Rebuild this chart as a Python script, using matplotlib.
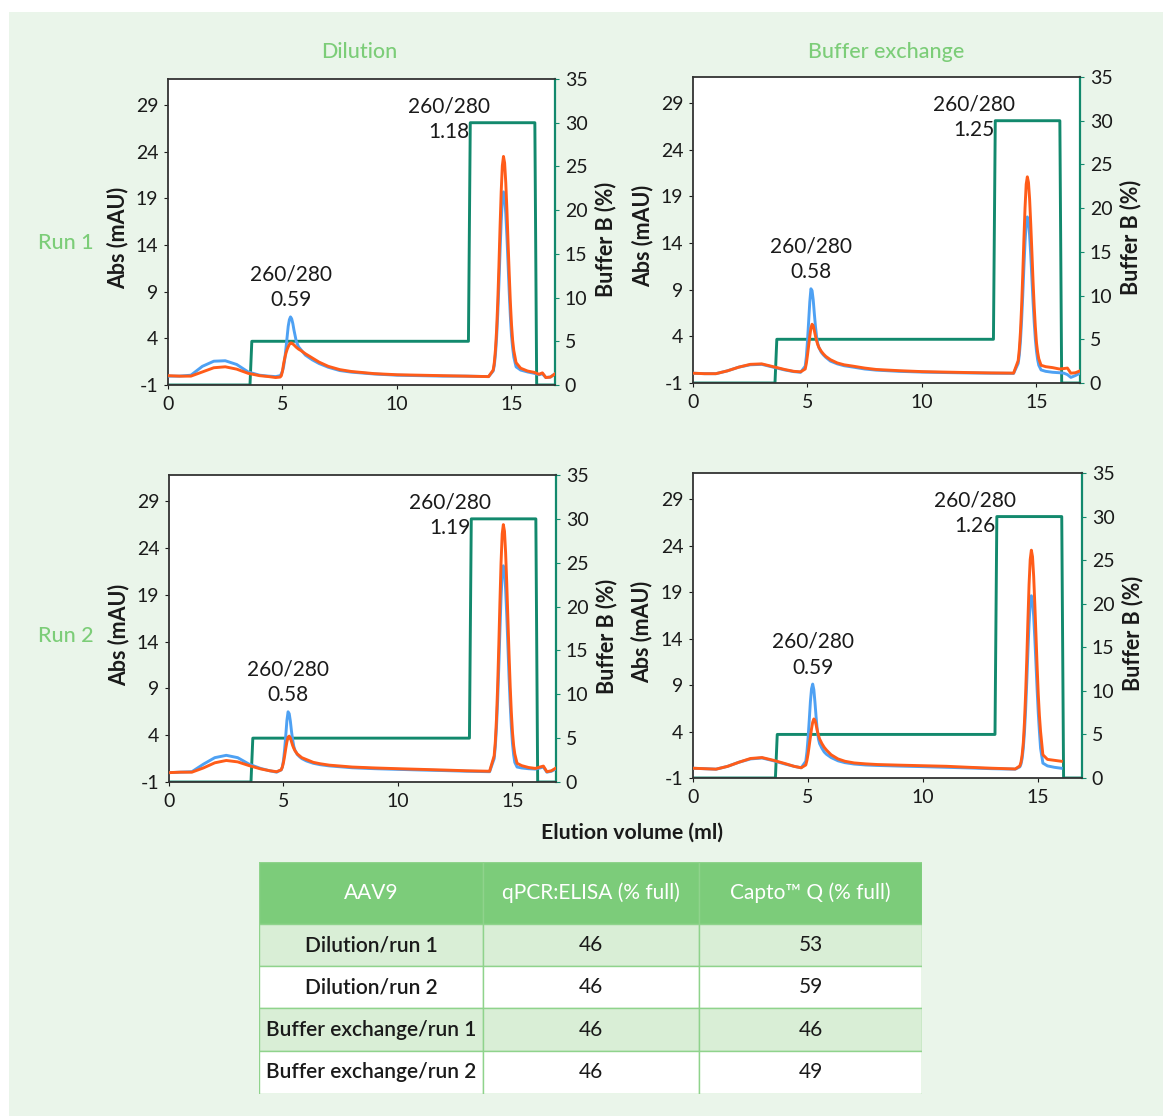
import numpy as np
import matplotlib.pyplot as plt
from matplotlib.patches import Rectangle

plt.rcParams['font.family'] = ['Lato', 'DejaVu Sans']
plt.rcParams['axes.unicode_minus'] = False

# ---------------------------------------------------------------- data
# elution volume grid (ml) shared by all UV traces
vol = ([0.0, 0.5, 1.0, 1.5, 2.0, 2.5, 3.0, 3.5, 4.0, 4.4, 4.7]
       + [4.9, 4.95, 5.0, 5.05, 5.1, 5.15, 5.2, 5.25, 5.3, 5.35, 5.4, 5.45,
          5.5, 5.6, 5.7, 5.8]
       + [6.0, 6.3, 6.6, 7.0, 7.5, 8.0, 9.0, 10.0, 11.0, 12.0, 13.0, 14.0]
       + [14.2, 14.25, 14.3, 14.35, 14.4, 14.45, 14.5, 14.55, 14.6, 14.65,
          14.7, 14.75, 14.8, 14.85, 14.9, 14.95, 15.0, 15.05, 15.1]
       + [15.2, 15.4, 15.7, 16.0, 16.2, 16.35, 16.5, 16.7, 16.9])

nan = np.nan

# Dilution / run 1 (A260 blue, A280 orange), mAU
dil1_a260 = ([-0.05, -0.05, 0.05, 1.0, 1.55, 1.6, 1.2, 0.4, 0.05, -0.05, -0.1]
             + [0.0, 0.2, 0.5, 1.0, 1.8, 2.9, 4.1, 5.3, 6.0, 6.3, 6.1, 5.6,
                4.9, 3.7, 3.1, 2.8]
             + [2.2, 1.7, 1.3, 0.9, 0.55, 0.38, 0.18, 0.05, 0.0, -0.05, -0.05, -0.1]
             + [0.5, 1.1, 2.3, 4.1, 6.6, 9.8, 13.3, 16.5, 18.8, 19.7, 19.1,
                17.4, 14.9, 12.0, 9.0, 6.4, 4.3, 3.0, 2.0]
             + [0.95, 0.6, 0.4, 0.25, 0.1, 0.2, -0.2, -0.15, 0.2])
dil1_a280 = ([0.0, -0.05, -0.05, 0.4, 0.85, 0.95, 0.7, 0.25, 0.0, -0.1, -0.2]
             + [-0.15, 0.0, 0.5, 1.3, 1.9, 2.4, 2.8, 3.1, 3.35, 3.5, 3.5, 3.4,
                3.3, 3.05, 2.85, 2.7]
             + [2.35, 1.9, 1.45, 1.0, 0.65, 0.45, 0.22, 0.1, 0.05, 0.0, -0.05, -0.1]
             + [0.6, 1.4, 2.8, 4.9, 7.9, 11.7, 15.9, 19.7, 22.5, 23.5, 22.8,
                20.7, 17.8, 14.3, 11.0, 7.9, 5.5, 3.8, 2.7]
             + [1.4, 0.8, 0.5, 0.35, 0.15, 0.3, -0.2, -0.15, 0.2])

# Buffer exchange / run 1
bex1_a260 = ([0.05, 0.0, 0.0, 0.3, 0.7, 0.95, 1.0, 0.7, 0.4, 0.22, 0.15]
             + [0.8, 1.8, 3.5, 5.6, 7.7, 9.1, 8.9, 7.9, 6.4, 5.0, 3.9, 3.2,
                2.8, 2.3, 2.0, 1.75]
             + [1.35, 1.05, 0.85, 0.7, 0.5, 0.38, 0.25, 0.17, 0.12, 0.08, 0.05, 0.03]
             + [1.1, 2.0, 3.5, 5.7, 8.4, 11.4, 14.1, 16.1, 16.8, 16.3, 14.8,
                12.7, 10.2, 7.7, 5.5, 3.7, 2.4, 1.5, 0.9]
             + [0.4, 0.25, 0.15, 0.1, 0.05, -0.1, -0.4, -0.2, 0.05])
bex1_a280 = ([0.05, 0.0, 0.0, 0.3, 0.7, 1.0, 1.05, 0.75, 0.45, 0.25, 0.2]
             + [0.5, 1.1, 2.0, 3.0, 4.0, 4.9, 5.3, 5.1, 4.6, 4.0, 3.5, 3.1,
                2.8, 2.4, 2.1, 1.85]
             + [1.5, 1.15, 0.95, 0.8, 0.6, 0.45, 0.32, 0.22, 0.17, 0.12, 0.08, 0.06]
             + [1.4, 2.6, 4.5, 7.2, 10.6, 14.4, 17.8, 20.3, 21.1, 20.5, 18.7,
                16.0, 13.0, 9.9, 7.2, 5.0, 3.3, 2.3, 1.6]
             + [0.9, 0.75, 0.65, 0.5, 0.55, 0.6, 0.05, 0.1, 0.3])

# Dilution / run 2
dil2_a260 = ([0.0, 0.05, 0.1, 0.9, 1.6, 1.85, 1.6, 0.9, 0.45, 0.2, 0.05]
             + [0.3, 0.6, 1.3, 2.5, 4.0, 5.6, 6.5, 6.3, 5.5, 4.4, 3.5, 2.8,
                2.4, 1.95, 1.7, 1.5]
             + [1.25, 1.0, 0.85, 0.72, 0.62, 0.52, 0.42, 0.35, 0.28, 0.22, 0.15, 0.1]
             + [1.5, 2.8, 4.8, 7.6, 11.2, 15.1, 18.7, 21.3, 22.1, 21.5, 19.6,
                16.8, 13.5, 10.2, 7.3, 4.9, 3.1, 1.9, 1.1]
             + [0.6, 0.5, 0.42, 0.38, 0.5, 0.6, 0.05, 0.15, 0.4])
dil2_a280 = ([0.0, 0.05, 0.05, 0.5, 1.05, 1.3, 1.15, 0.75, 0.4, 0.2, 0.1]
             + [0.3, 0.6, 1.1, 1.8, 2.6, 3.3, 3.8, 3.9, 3.7, 3.3, 2.9, 2.6,
                2.35, 2.0, 1.8, 1.6]
             + [1.4, 1.1, 0.95, 0.8, 0.7, 0.6, 0.5, 0.42, 0.35, 0.28, 0.2, 0.15]
             + [1.8, 3.3, 5.7, 9.1, 13.4, 18.1, 22.4, 25.5, 26.5, 25.8, 23.5,
                20.2, 16.4, 12.6, 9.2, 6.4, 4.3, 2.9, 2.0]
             + [1.0, 0.75, 0.55, 0.45, 0.6, 0.7, 0.1, 0.2, 0.5])

# Buffer exchange / run 2 (trace ends at 16 ml)
bex2_a260 = ([0.05, 0.0, -0.05, 0.25, 0.7, 1.05, 1.15, 0.85, 0.5, 0.25, 0.1]
             + [0.8, 1.8, 3.3, 5.2, 7.2, 8.6, 9.1, 8.5, 7.1, 5.5, 4.1, 3.2,
                2.7, 2.2, 1.8, 1.55]
             + [1.2, 0.85, 0.65, 0.5, 0.4, 0.35, 0.28, 0.22, 0.15, 0.08, 0.0, -0.05]
             + [0.2, 0.5, 1.1, 2.2, 3.9, 6.3, 9.3, 12.6, 15.6, 17.8, 18.6,
                18.0, 16.4, 14.0, 11.3, 8.5, 6.0, 4.0, 2.2]
             + [0.6, 0.3, 0.15, 0.05, nan, nan, nan, nan, nan])
bex2_a280 = ([0.05, 0.0, -0.05, 0.25, 0.7, 1.1, 1.2, 0.9, 0.55, 0.25, 0.1]
             + [0.4, 0.9, 1.6, 2.5, 3.4, 4.3, 5.0, 5.35, 5.2, 4.7, 4.1, 3.6,
                3.2, 2.7, 2.3, 2.0]
             + [1.5, 1.05, 0.8, 0.62, 0.52, 0.45, 0.38, 0.32, 0.26, 0.15, 0.05, -0.03]
             + [0.3, 0.7, 1.5, 2.8, 5.0, 8.0, 11.7, 15.9, 19.8, 22.5, 23.5,
                22.8, 20.7, 17.7, 14.4, 11.0, 8.0, 5.7, 4.0]
             + [1.5, 1.0, 0.9, 0.8, nan, nan, nan, nan, nan])

# step gradient of buffer B (%)
grad_vol = [0.0, 3.58, 3.66, 13.12, 13.2, 16.02, 16.1, 16.9]
grad_b = [0, 0, 5, 5, 30, 30, 0, 0]

# 260/280 ratios of the two peaks
ratio_peak1 = {"dil1": "0.59", "bex1": "0.58", "dil2": "0.58", "bex2": "0.59"}
ratio_peak2 = {"dil1": "1.18", "bex1": "1.25", "dil2": "1.19", "bex2": "1.26"}

# summary table
table_cols = ["AAV9", "qPCR:ELISA (% full)", "Capto\u2122 Q (% full)"]
table_rows = ["Dilution/run 1", "Dilution/run 2",
              "Buffer exchange/run 1", "Buffer exchange/run 2"]
qpcr_full = [46, 46, 46, 46]
capto_full = [53, 59, 46, 49]

for trace in (dil1_a260, dil1_a280, bex1_a260, bex1_a280,
              dil2_a260, dil2_a280, bex2_a260, bex2_a280):
    assert len(trace) == len(vol)

# ---------------------------------------------------------------- style
BLUE = "#4ea1f3"
ORANGE = "#ff5c19"
TEAL = "#12896d"
GREEN_TXT = "#7ccd78"
BG = "#eaf5ea"
HEAD = "#7ccc7a"
ROW_ALT = "#d9eed6"
INK = "#1a1a1a"

W, H = 1163, 1116
fig = plt.figure(figsize=(W / 100, H / 100), dpi=100, facecolor="white")
fig.patches.append(Rectangle((9 / W, 0.0), 1 - 9 / W, 1 - 12 / H,
                             transform=fig.transFigure, facecolor=BG,
                             edgecolor="none", zorder=-10))


def px_rect(l, t, r, b):
    return [l / W, 1 - b / H, (r - l) / W, (b - t) / H]


panels = [
    ("dil1", px_rect(168, 79, 555, 385), dil1_a260, dil1_a280),
    ("bex1", px_rect(693, 77, 1080, 383), bex1_a260, bex1_a280),
    ("dil2", px_rect(169, 475, 556, 782), dil2_a260, dil2_a280),
    ("bex2", px_rect(693, 473, 1082, 778), bex2_a260, bex2_a280),
]

TICK_FS = 14
LW = 2.1
for key, rect, a260, a280 in panels:
    ax = fig.add_axes(rect)
    ax2 = ax.twinx()

    ax2.plot(grad_vol, grad_b, color=TEAL, lw=LW, zorder=2)
    ax.plot(vol, a260, color=BLUE, lw=LW, zorder=3)
    ax.plot(vol, a280, color=ORANGE, lw=LW, zorder=4)
    ax.set_zorder(ax2.get_zorder() + 1)
    ax.patch.set_visible(False)
    ax2.patch.set_visible(True)
    ax2.patch.set_facecolor("white")

    ax.set_xlim(0, 16.9)
    ax.set_ylim(-1, 31.8)
    ax2.set_ylim(0, 35)
    ax.set_xticks([0, 5, 10, 15])
    ax.set_yticks(np.arange(-1, 30, 5))
    ax2.set_yticks(np.arange(0, 36, 5))

    for s in ("left", "top", "bottom"):
        ax.spines[s].set_color("#333333")
        ax.spines[s].set_linewidth(1.3)
        ax2.spines[s].set_visible(False)
    ax.spines["right"].set_visible(False)
    ax2.spines["right"].set_color(TEAL)
    ax2.spines["right"].set_linewidth(1.6)

    ax.tick_params(axis="both", labelsize=TICK_FS, colors=INK, length=3,
                   width=0.8, pad=4)
    ax.tick_params(axis="x", pad=5)
    ax2.tick_params(axis="y", labelsize=TICK_FS, colors=INK, length=3,
                    width=0.8, pad=4, color=TEAL)

    ax.set_ylabel("Abs (mAU)", fontsize=15.5, fontweight="bold", color=INK)
    ax.yaxis.set_label_coords(-0.103, 0.48)
    ax2.set_ylabel("Buffer B (%)", fontsize=15.5, fontweight="bold", color=INK)
    ax2.yaxis.set_label_coords(1.103, 0.475)

    # ratio labels above the two peaks
    v = np.array(vol)
    early = np.where(v < 8, np.array(a260, dtype=float), np.nan)
    i1 = int(np.nanargmax(early))
    ax.text(vol[i1], a260[i1] + 0.7, "260/280\n" + ratio_peak1[key],
            ha="center", va="bottom", fontsize=15, color=INK,
            linespacing=1.35, zorder=6)
    ax.text(12.25, 27.5, "260/280\n" + ratio_peak2[key], ha="center",
            va="center", fontsize=15, color=INK, linespacing=1.35, zorder=6)

# column and row headings
head_kw = dict(ha="center", va="center", fontsize=15.5, color=GREEN_TXT,
               fontweight="medium")
fig.text(359 / W, 1 - 52 / H, "Dilution", **head_kw)
fig.text(886 / W, 1 - 52 / H, "Buffer exchange", **head_kw)
fig.text(66 / W, 1 - 243 / H, "Run 1", **head_kw)
fig.text(66 / W, 1 - 636 / H, "Run 2", **head_kw)
fig.text(632 / W, 1 - 833 / H, "Elution volume (ml)", ha="center",
         va="center", fontsize=15.3, fontweight="bold", color=INK)

# ---------------------------------------------------------------- table
col_edges = [0, 224, 440, 663]
row_edges = [0, 62, 104, 146, 189, 232]
tax = fig.add_axes(px_rect(259, 862, 922, 1094))
tax.set_xlim(0, 663)
tax.set_ylim(232, 0)
tax.axis("off")

cells = [table_cols] + [[r, str(q), str(c)]
                        for r, q, c in zip(table_rows, qpcr_full, capto_full)]
for ri, row in enumerate(cells):
    y0, y1 = row_edges[ri], row_edges[ri + 1]
    if ri == 0:
        fc = HEAD
    elif ri % 2 == 1:
        fc = ROW_ALT
    else:
        fc = "white"
    for ci, txt in enumerate(row):
        x0, x1 = col_edges[ci], col_edges[ci + 1]
        tax.add_patch(Rectangle((x0, y0), x1 - x0, y1 - y0, facecolor=fc,
                                edgecolor="#8fd38c", linewidth=1.0))
        if ri == 0:
            color, weight = "white", "normal"
        else:
            color = INK
            weight = "semibold" if ci == 0 else "normal"
        tax.text((x0 + x1) / 2, (y0 + y1) / 2, txt, ha="center", va="center",
                 fontsize=15, color=color, fontweight=weight)

fig.savefig("out.png", dpi=100, facecolor=fig.get_facecolor())
